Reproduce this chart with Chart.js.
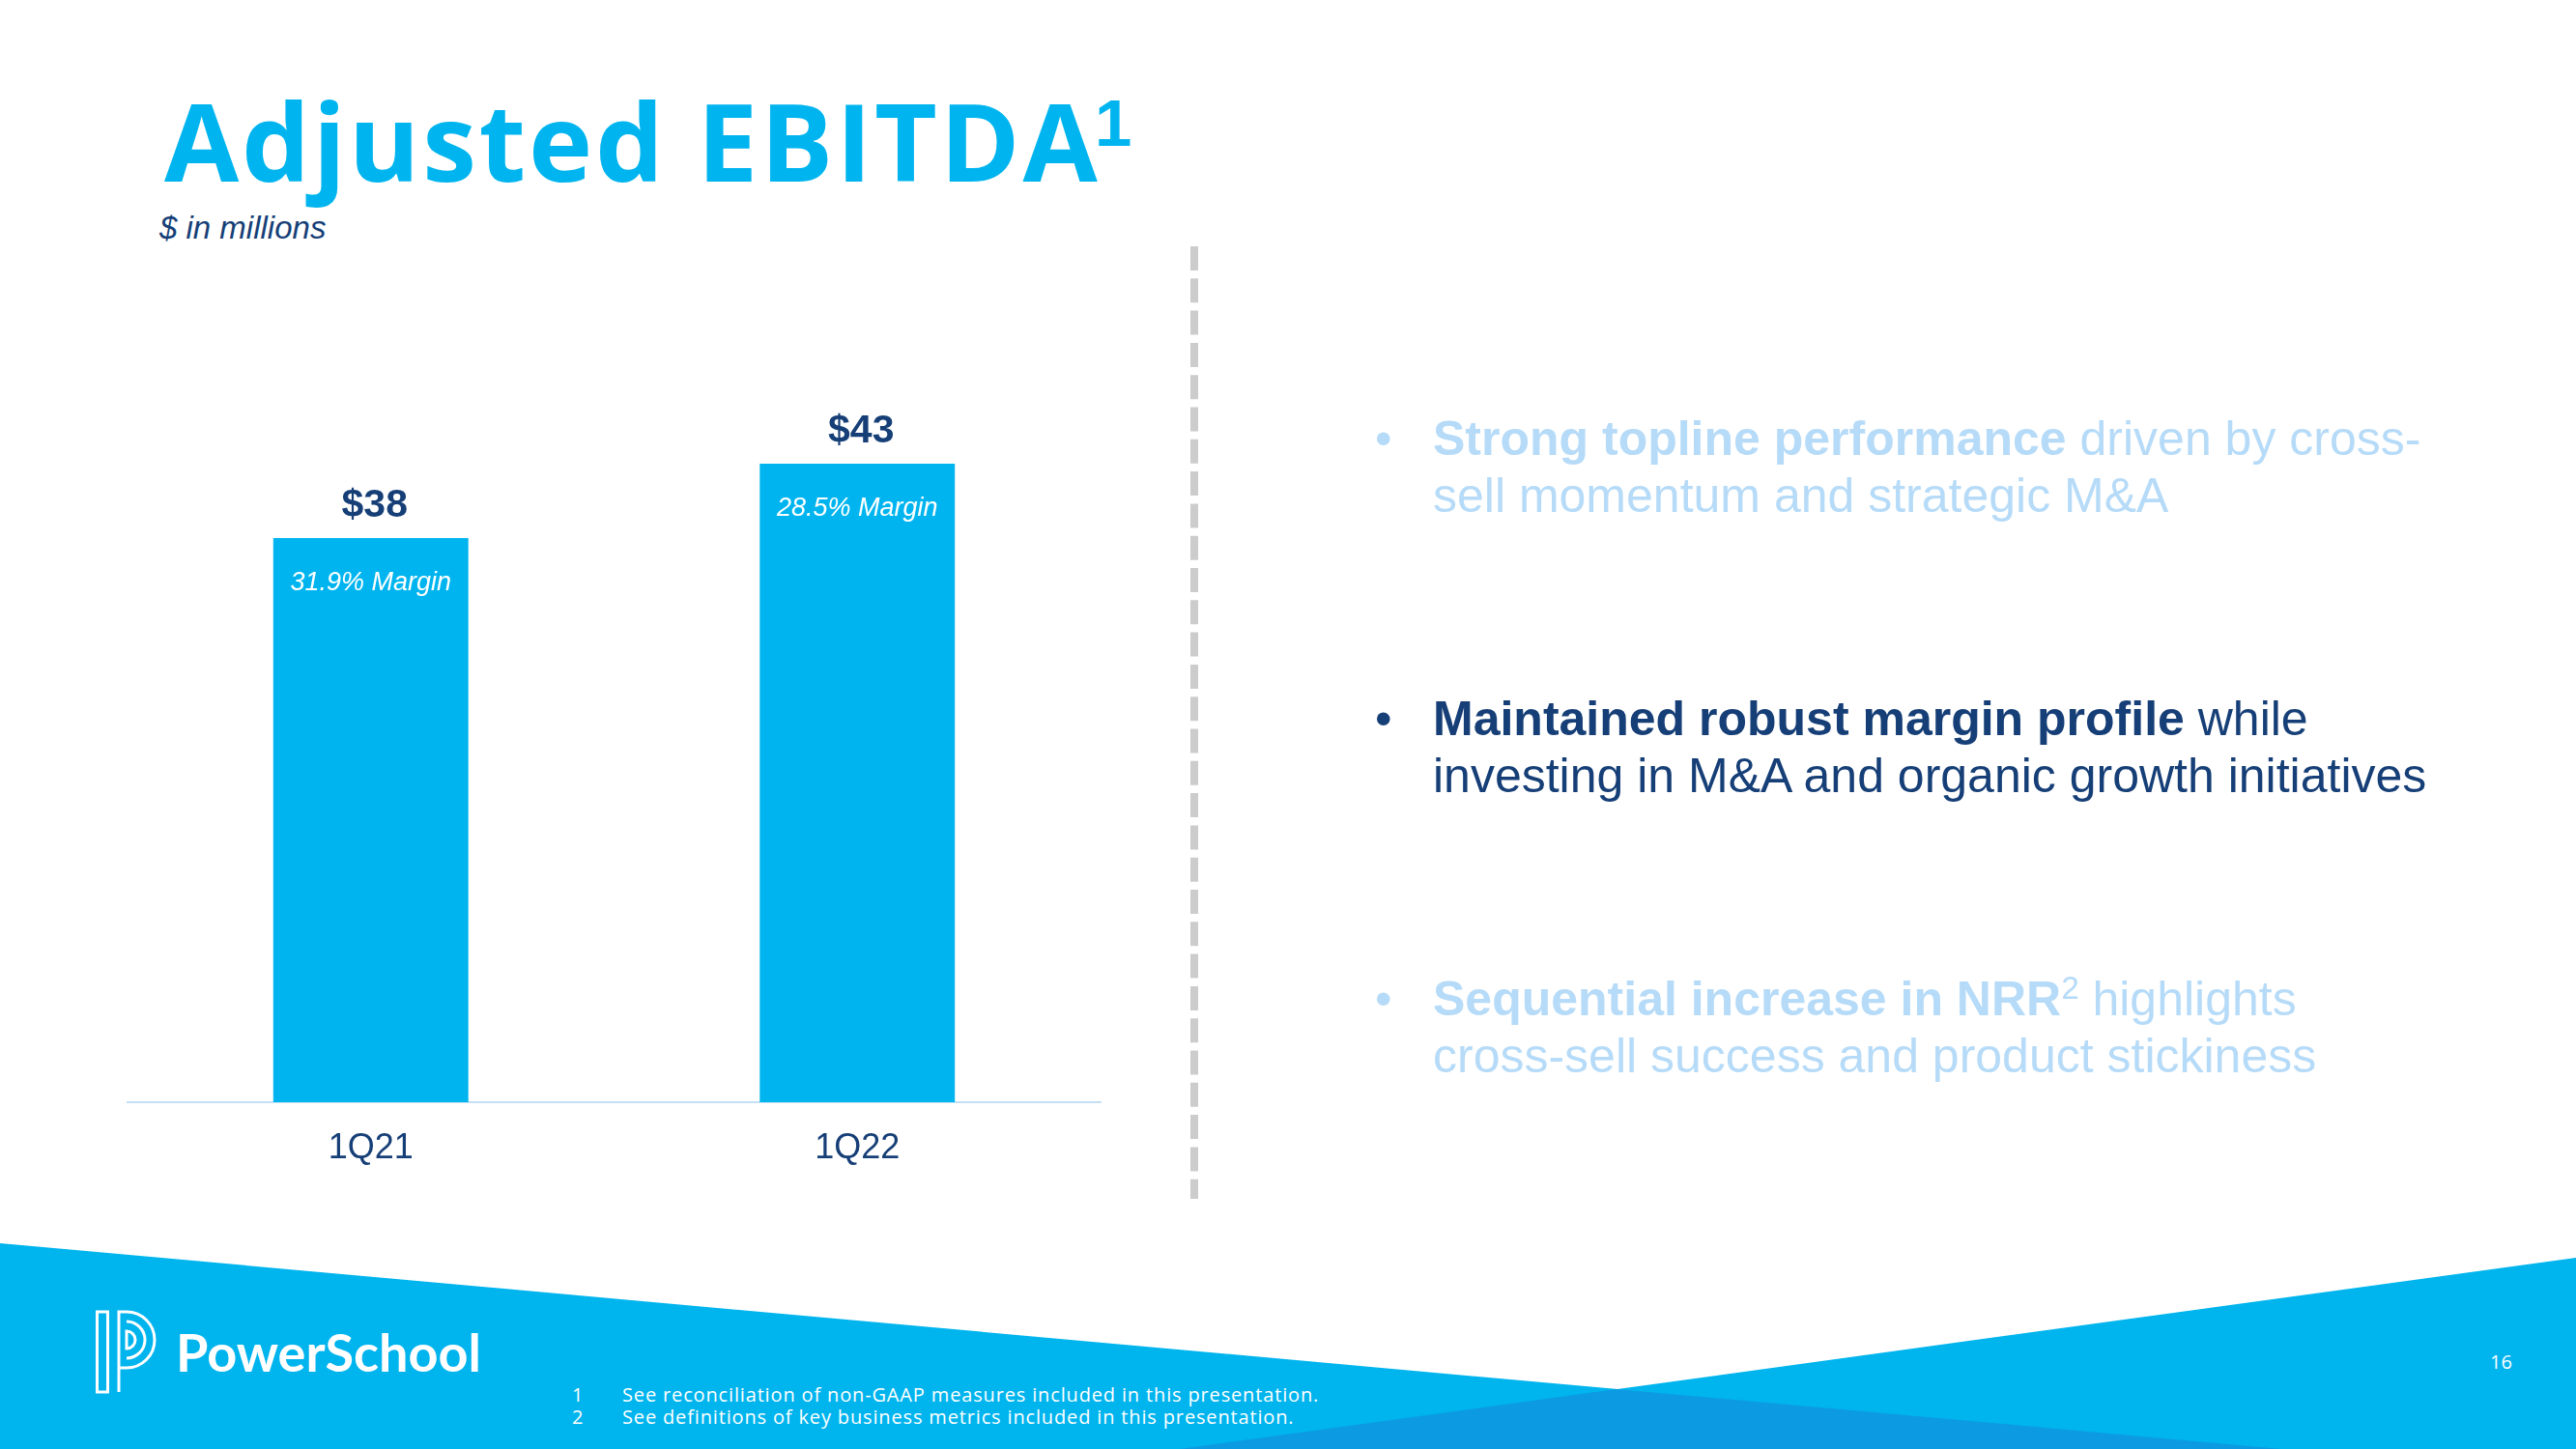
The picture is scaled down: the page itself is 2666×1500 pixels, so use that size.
<!DOCTYPE html>
<html>
<head>
<meta charset="utf-8">
<title>Adjusted EBITDA</title>
<script src="https://cdn.jsdelivr.net/npm/chart.js@4.4.0/dist/chart.umd.min.js"></script>
<style>
  body { margin: 0; width: 2666px; height: 1500px; position: relative; overflow: hidden; background: #fff; font-family: "Liberation Sans", Arial, sans-serif; }
  .abs { position: absolute; white-space: nowrap; line-height: 1; }
  #deco { position: absolute; left: 0; top: 0; }
  #title { left: 170px; top: 89px; font-family: "Open Sans", sans-serif; font-weight: 700; font-size: 112px; letter-spacing: 2.8px; color: #00b5ef; }
  #titleSup { left: 1133px; top: 93px; font-weight: 700; font-size: 69px; color: #00b5ef; }
  #unit { left: 165px; top: 219px; font-style: italic; font-size: 33px; color: #163f77; }
  #chartBox { position: absolute; left: 0; top: 300px; width: 1200px; height: 960px; }
  .bullet { position: absolute; left: 1483px; font-size: 50px; line-height: 59px; white-space: nowrap; }
  .bullet .dot { position: absolute; left: -60px; top: 0; }
  .bullet sup { font-size: 33px; line-height: 0; vertical-align: 17px; }
  .light { color: #b6dbf8; }
  .dark { color: #163f77; }
  #brand { left: 182px; top: 1373px; font-family: Lato, sans-serif; font-weight: 700; font-size: 54px; color: #fff; }
  .note { font-family: "Open Sans", sans-serif; font-size: 20px; letter-spacing: 0.85px; color: #fff; }
  #page { left: 2577px; top: 1400px; font-family: "Open Sans", sans-serif; font-size: 20px; color: #fff; }
</style>
</head>
<body>

<svg id="deco" width="2666" height="1500">
  <!-- divider -->
  <line x1="1236" y1="255" x2="1236" y2="1241" stroke="#cccccc" stroke-width="8" stroke-dasharray="25 8.3"/>
  <!-- footer bands -->
  <polygon points="0,1287 2361,1500 0,1500" fill="#00b4ee"/>
  <polygon points="1221,1500 2666,1302 2666,1500" fill="#00b4ee"/>
  <polygon points="1673,1438 2361,1500 1221,1500" fill="#0c9be2"/>
  <!-- logo mark -->
  <g fill="none" stroke="#fff" stroke-width="3">
    <rect x="100.5" y="1358" width="11" height="83"/>
    <path d="M123,1441 V1358 H131 A29,29 0 0 1 131,1416 H123"/>
    <path d="M131,1368 A19,19 0 0 1 131,1406"/>
    <path d="M131,1378 A9,9 0 0 1 131,1396 Z"/>
  </g>
</svg>

<div id="title" class="abs">Adjusted EBITDA</div>
<div id="titleSup" class="abs">1</div>
<div id="unit" class="abs">$ in millions</div>

<div id="chartBox"><canvas id="chart" width="1200" height="960"></canvas></div>

<div class="bullet light" style="top:425px"><span class="dot">•</span><b>Strong topline performance</b> driven by cross-<br>sell momentum and strategic M&amp;A</div>
<div class="bullet dark" style="top:715px"><span class="dot">•</span><b>Maintained robust margin profile</b> while<br>investing in M&amp;A and organic growth initiatives</div>
<div class="bullet light" style="top:1005px"><span class="dot">•</span><b>Sequential increase in NRR</b><sup>2</sup> highlights<br>cross-sell success and product stickiness</div>

<div id="brand" class="abs">PowerSchool</div>
<div class="abs note" style="left:592px; top:1434px">1</div>
<div class="abs note" style="left:644px; top:1434px">See reconciliation of non-GAAP measures included in this presentation.</div>
<div class="abs note" style="left:592px; top:1457px">2</div>
<div class="abs note" style="left:644px; top:1457px">See definitions of key business metrics included in this presentation.</div>
<div id="page" class="abs">16</div>

<script>
const categories = ['1Q21', '1Q22'];
const ebitda = [38, 43];
const margins = [31.9, 28.5];
const yMax = 50;

const BAR_BLUE = '#00b5ef';
const NAVY = '#163f77';

// value on top, margin inside each bar
const barLabels = {
    id: 'barLabels',
    afterDatasetsDraw(chart) {
        const ctx = chart.ctx;
        const meta = chart.getDatasetMeta(0);
        ctx.save();
        ctx.textAlign = 'center';
        ctx.textBaseline = 'alphabetic';
        meta.data.forEach((bar, i) => {
            ctx.fillStyle = NAVY;
            ctx.font = 'bold 41px "Liberation Sans", Arial, sans-serif';
            ctx.fillText('$' + ebitda[i], bar.x + 4, bar.y - 22);

            ctx.fillStyle = '#ffffff';
            ctx.font = 'italic 27px "Liberation Sans", Arial, sans-serif';
            ctx.fillText(margins[i].toFixed(1) + '% Margin', bar.x, bar.y + 54);
        });
        ctx.restore();
    }
};

const ctx = document.getElementById('chart').getContext('2d');
new Chart(ctx, {
    type: 'bar',
    data: {
        labels: categories,
        datasets: [{
            data: ebitda,
            backgroundColor: BAR_BLUE,
            borderWidth: 0,
            categoryPercentage: 1,
            barPercentage: 0.401
        }]
    },
    options: {
        responsive: false,
        animation: false,
        layout: { padding: { left: 132, right: 61, top: 72.5, bottom: 0 } },
        plugins: {
            legend: { display: false },
            tooltip: { enabled: false }
        },
        scales: {
            x: {
                grid: { display: false, drawTicks: false },
                border: { display: true, color: '#c4e0f2', width: 2 },
                ticks: {
                    color: NAVY,
                    font: { family: '"Liberation Sans", Arial, sans-serif', size: 36 },
                    padding: 26
                },
                afterFit: scale => { scale.height = 119; }
            },
            y: { display: false, min: 0, max: yMax }
        }
    },
    plugins: [barLabels]
});
</script>
</body>
</html>
